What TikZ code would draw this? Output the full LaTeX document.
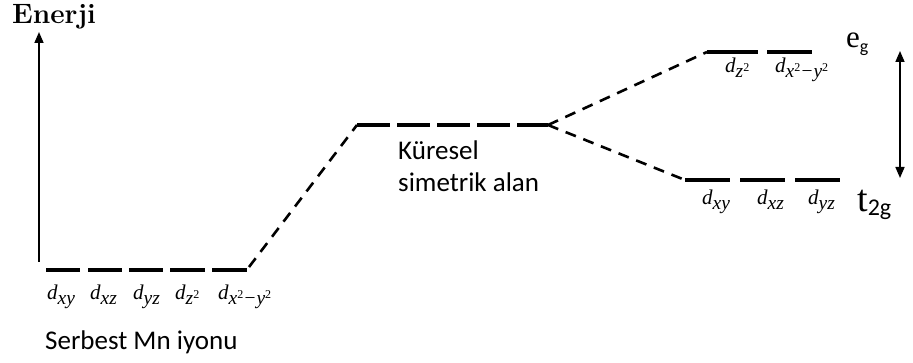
\documentclass[tikz,border=0pt]{standalone}
\usepackage{fontspec}
\newfontfamily\calibri{Carlito}
\newfontfamily\timesf{Liberation Serif}
\usetikzlibrary{arrows.meta}
% orbital label: italic d with a lowered, nearly full-size subscript
\newcommand{\dsub}[1]{{\timesf\itshape\fontsize{21}{23}\selectfont d\raisebox{-5pt}{\fontsize{19.5}{21}\selectfont #1}}}
\newcommand{\sq}{\raisebox{6pt}{\upshape\fontsize{12}{14}\selectfont 2}}

\begin{document}
\begin{tikzpicture}[x=1pt,y=-1pt,
  level/.style={line width=3.2pt},
  link/.style={line width=2.6pt, dash pattern=on 11pt off 8pt},
  orb/.style={inner sep=0pt, anchor=base west},
  caption/.style={inner sep=0pt, anchor=base west, align=left,
    font=\calibri\fontsize{27}{32}\selectfont},
  axis/.style={line width=1.6pt, -{Triangle[length=11pt,width=9pt]}},
  gap/.style={line width=1.6pt, {Triangle[length=11pt,width=9pt]}-{Triangle[length=11pt,width=9pt]}}]
\useasboundingbox (0,0) rectangle (913,363);

% energy axis
\node (energy) [inner sep=0pt, anchor=base west, font=\bfseries\fontsize{28}{30}\selectfont] at (12,24) {Enerji};
\coordinate (axisbot) at (39,262);
\coordinate (axistop) at (39,32);
\draw[axis] (axisbot) -- (axistop);

% free ion: five degenerate d levels
\foreach \i/\a/\b in {1/46/80, 2/88/122, 3/129/163, 4/170/205, 5/212/247} {
  \coordinate (F\i a) at (\a,270);
  \coordinate (F\i b) at (\b,270);
  \draw[level] (F\i a) -- (F\i b);
}
\node (fxy)  [orb] at (47,300)  {\dsub{xy}};
\node (fxz)  [orb] at (90,300)  {\dsub{xz}};
\node (fyz)  [orb] at (133,300) {\dsub{yz}};
\node (fz2)  [orb] at (175,300) {\dsub{z\sq}};
\node (fx2)  [orb] at (218,300) {\dsub{x\sq{}−y\sq}};
\node (free) [caption] at (45,349) {Serbest Mn iyonu};

% spherical field level
\coordinate (Sa) at (357,125);
\coordinate (Sb) at (548,125);
\draw[line width=3.2pt, dash pattern=on 33pt off 7pt] (Sa) -- (Sb);
\node (sph1) [caption] at (398,160) {Küresel};
\node (sph2) [caption] at (398,192) {simetrik alan};

% connector from free ion to spherical field
\coordinate (Fend) at (249,267);
\draw[link] (Fend) -- (Sa);

% octahedral splitting: e_g
\coordinate (E1a) at (707,52);
\coordinate (E1b) at (758,52);
\coordinate (E2a) at (767,52);
\coordinate (E2b) at (812,52);
\draw[level] (E1a) -- (E1b);
\draw[level] (E2a) -- (E2b);
\node (ez2) [orb] at (725,73) {\dsub{z\sq}};
\node (ex2) [orb] at (775,73) {\dsub{x\sq{}−y\sq}};
\node (eg) [inner sep=0pt, anchor=base west] at (846,48)
  {\timesf\fontsize{31}{33}\selectfont e\raisebox{-5pt}{\calibri\fontsize{18}{20}\selectfont g}};

% octahedral splitting: t_2g
\coordinate (T1a) at (685,180);
\coordinate (T1b) at (730,180);
\coordinate (T2a) at (740,180);
\coordinate (T2b) at (785,180);
\coordinate (T3a) at (795,180);
\coordinate (T3b) at (840,180);
\draw[level] (T1a) -- (T1b);
\draw[level] (T2a) -- (T2b);
\draw[level] (T3a) -- (T3b);
\node (txy) [orb] at (702,205) {\dsub{xy}};
\node (txz) [orb] at (757,205) {\dsub{xz}};
\node (tyz) [orb] at (808,205) {\dsub{yz}};
\node (t2g) [inner sep=0pt, anchor=base west] at (857,212)
  {\timesf\fontsize{38}{40}\selectfont t\raisebox{-4pt}{\calibri\fontsize{24}{26}\selectfont 2g}};

% splitting connectors
\draw[link] (Sb) -- (E1a);
\draw[link] (Sb) -- (T1a);

% splitting energy
\coordinate (gaptop) at (900,51);
\coordinate (gapbot) at (900,178);
\draw[gap] (gapbot) -- (gaptop);
\end{tikzpicture}
\end{document}
